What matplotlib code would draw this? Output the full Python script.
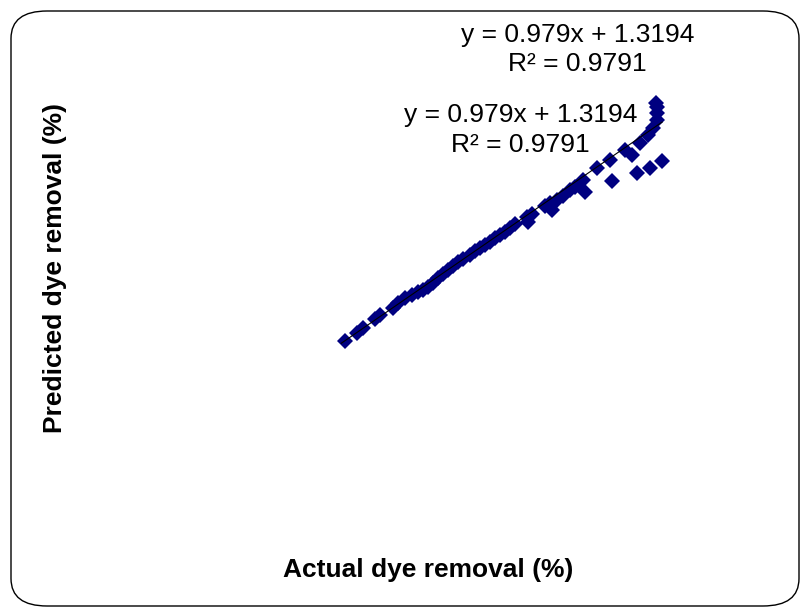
import matplotlib.pyplot as plt
from matplotlib.patches import FancyBboxPatch
import numpy as np

plt.rcParams['font.family'] = ['Liberation Sans', 'DejaVu Sans']

# actual vs predicted dye removal (%)
actual = [37.3, 39.0, 39.9, 41.5, 42.3, 44.1, 44.8, 45.8, 46.8, 47.6,
          48.3, 49.0, 49.7, 50.4, 51.1, 51.8, 52.5, 53.2, 53.9, 54.9,
          55.6, 56.3, 57.0, 57.7, 58.5, 59.2, 59.9, 60.6, 61.3, 63.0,
          63.7, 63.1, 65.5, 66.5, 66.2, 67.2, 68.0, 69.0, 69.7, 71.1,
          70.8, 72.8, 74.9, 74.6, 76.8, 78.9, 78.5, 80.3, 82.0, 80.0,
          80.7, 81.3, 81.3, 81.3, 81.1, 77.7]
predicted = [37.8, 39.4, 40.4, 42.2, 43.0, 44.4, 45.4, 46.4, 47.0, 47.6,
             48.0, 48.6, 49.4, 50.4, 51.2, 52.0, 52.8, 53.6, 54.2, 55.0,
             55.8, 56.4, 57.0, 57.6, 58.4, 59.0, 59.6, 60.4, 61.2, 62.6,
             63.2, 61.6, 64.8, 64.0, 65.4, 66.0, 66.8, 68.0, 68.6, 67.6,
             70.0, 72.4, 69.8, 74.0, 76.0, 77.4, 71.4, 72.4, 73.8, 79.0,
             80.4, 82.0, 83.4, 84.6, 85.4, 75.0]

slope = 0.979
intercept = 1.3194
eq_text = 'y = 0.979x + 1.3194\nR² = 0.9791'

fig = plt.figure(figsize=(8.02, 6.09), dpi=100)

# rounded chart border
border = FancyBboxPatch((11 / 802, 3 / 609), 788 / 802, 595 / 609,
                        boxstyle='round,pad=0,rounding_size=0.045',
                        transform=fig.transFigure, fill=False,
                        edgecolor='black', linewidth=1.0)
fig.patches.append(border)

ax = fig.add_axes([80 / 802, 79 / 609, 710 / 802, 500 / 609])
ax.set_xlim(0, 100)
ax.set_ylim(0, 100)
ax.axis('off')

ax.plot(actual, predicted, linestyle='none', marker='D', markersize=8.5,
        markeredgewidth=0, color='#000080', zorder=2)

# linear trendline
xs = np.array([min(actual) - 0.5, max(actual)])
ax.plot(xs, slope * xs + intercept, color='black', linewidth=0.8, zorder=3)

ax.text(70.1, 96.1, eq_text, ha='center', va='center', fontsize=19,
        linespacing=1.3)
ax.text(62.0, 80.0, eq_text, ha='center', va='center', fontsize=19,
        linespacing=1.3)

fig.text(428 / 802, 1 - 570 / 609, 'Actual dye removal (%)', ha='center',
         va='center', fontsize=19, fontweight='bold')
fig.text(55 / 802, 1 - 268 / 609, 'Predicted dye removal (%)', ha='center',
         va='center', rotation=90, fontsize=19, fontweight='bold')

fig.savefig('out.png', dpi=100)
